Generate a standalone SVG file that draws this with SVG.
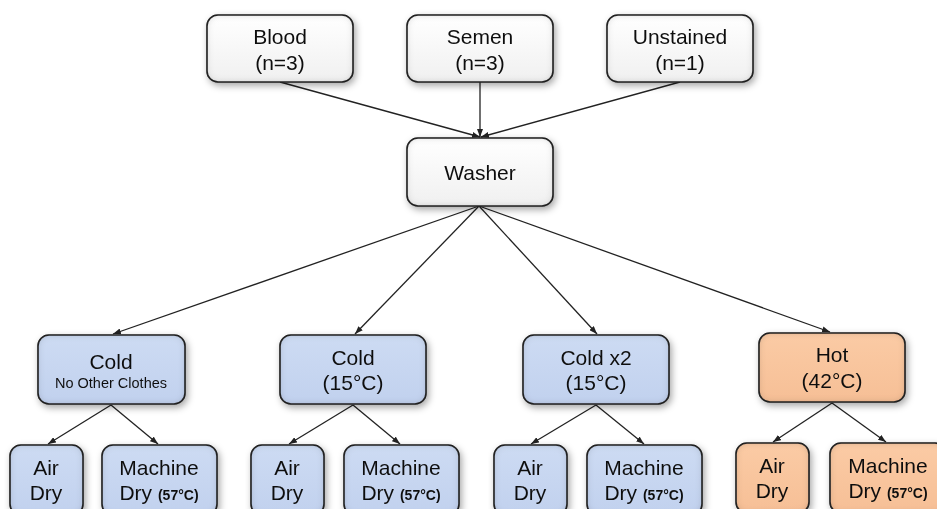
<svg xmlns="http://www.w3.org/2000/svg" width="937" height="509" viewBox="0 0 937 509">
  <style>
    .box { stroke: #262626; stroke-width: 1.6; }
    .plain { fill: url(#gPlain); }
    .cold { fill: url(#gCold); }
    .hot { fill: url(#gHot); }
    .lbl { font-family: "Liberation Sans", Arial, sans-serif; font-size: 21px; fill: #111; text-anchor: middle; }
    .small { font-size: 14.5px; }
    .deg { font-size: 14px; font-weight: bold; }
    .edge { stroke: #222; stroke-width: 1.3; fill: none; marker-end: url(#arr); }
  </style>
  <defs>
    <linearGradient id="gPlain" x1="0" y1="0" x2="0" y2="1">
      <stop offset="0" stop-color="#ffffff"/>
      <stop offset="1" stop-color="#f0f0f0"/>
    </linearGradient>
    <linearGradient id="gCold" x1="0" y1="0" x2="0" y2="1">
      <stop offset="0" stop-color="#cddbf3"/>
      <stop offset="1" stop-color="#c1d1ee"/>
    </linearGradient>
    <linearGradient id="gHot" x1="0" y1="0" x2="0" y2="1">
      <stop offset="0" stop-color="#fbcba5"/>
      <stop offset="1" stop-color="#f6bf96"/>
    </linearGradient>
    <!-- soft bevelled rim plus a drop shadow -->
    <filter id="bev" x="-10%" y="-15%" width="125%" height="135%">
      <feGaussianBlur in="SourceAlpha" stdDeviation="3.5" result="blur"/>
      <feComposite in="SourceAlpha" in2="blur" operator="out" result="rim"/>
      <feFlood flood-color="#000" flood-opacity="0.42"/>
      <feComposite in2="rim" operator="in" result="rimShade"/>
      <feOffset in="blur" dx="2" dy="3" result="sh"/>
      <feFlood flood-color="#000" flood-opacity="0.35"/>
      <feComposite in2="sh" operator="in" result="shadow"/>
      <feMerge>
        <feMergeNode in="shadow"/>
        <feMergeNode in="SourceGraphic"/>
        <feMergeNode in="rimShade"/>
      </feMerge>
    </filter>
    <marker id="arr" viewBox="0 0 8 6" refX="8" refY="3" markerWidth="8" markerHeight="6" markerUnits="userSpaceOnUse" orient="auto">
      <path d="M0,0 L8,3 L0,6 z" fill="#222"/>
    </marker>
  </defs>

  <g id="connectors">
    <line class="edge" x1="280" y1="82" x2="480" y2="137"/>
    <line class="edge" x1="480" y1="82" x2="480" y2="137"/>
    <line class="edge" x1="680" y1="82" x2="481" y2="137"/>
    <line class="edge" x1="479" y1="206" x2="113" y2="334"/>
    <line class="edge" x1="479" y1="206" x2="355" y2="334"/>
    <line class="edge" x1="479" y1="206" x2="597" y2="334"/>
    <line class="edge" x1="479" y1="206" x2="830" y2="332"/>
    <line class="edge" x1="111" y1="405" x2="48" y2="444"/>
    <line class="edge" x1="111" y1="405" x2="158" y2="444"/>
    <line class="edge" x1="353" y1="405" x2="289" y2="444"/>
    <line class="edge" x1="353" y1="405" x2="400" y2="444"/>
    <line class="edge" x1="596" y1="405" x2="531" y2="444"/>
    <line class="edge" x1="596" y1="405" x2="644" y2="444"/>
    <line class="edge" x1="832" y1="403" x2="773" y2="442"/>
    <line class="edge" x1="832" y1="403" x2="886" y2="442"/>
  </g>

  <g id="blood" filter="url(#bev)">
    <rect class="box plain" x="207" y="15" width="146" height="67" rx="11"/>
    <text class="lbl" x="280" y="44">Blood</text>
    <text class="lbl" x="280" y="70">(n=3)</text>
  </g>
  <g id="semen" filter="url(#bev)">
    <rect class="box plain" x="407" y="15" width="146" height="67" rx="11"/>
    <text class="lbl" x="480" y="44">Semen</text>
    <text class="lbl" x="480" y="70">(n=3)</text>
  </g>
  <g id="unstained" filter="url(#bev)">
    <rect class="box plain" x="607" y="15" width="146" height="67" rx="11"/>
    <text class="lbl" x="680" y="44">Unstained</text>
    <text class="lbl" x="680" y="70">(n=1)</text>
  </g>
  <g id="washer" filter="url(#bev)">
    <rect class="box plain" x="407" y="138" width="146" height="68" rx="11"/>
    <text class="lbl" x="480" y="180">Washer</text>
  </g>

  <g id="cold-alone" filter="url(#bev)">
    <rect class="box cold" x="38" y="335" width="147" height="69" rx="11"/>
    <text class="lbl" x="111" y="369">Cold</text>
    <text class="lbl small" x="111" y="388">No Other Clothes</text>
  </g>
  <g id="cold" filter="url(#bev)">
    <rect class="box cold" x="280" y="335" width="146" height="69" rx="11"/>
    <text class="lbl" x="353" y="365">Cold</text>
    <text class="lbl" x="353" y="390">(15°C)</text>
  </g>
  <g id="cold-x2" filter="url(#bev)">
    <rect class="box cold" x="523" y="335" width="146" height="69" rx="11"/>
    <text class="lbl" x="596" y="365">Cold x2</text>
    <text class="lbl" x="596" y="390">(15°C)</text>
  </g>
  <g id="hot" filter="url(#bev)">
    <rect class="box hot" x="759" y="333" width="146" height="69" rx="11"/>
    <text class="lbl" x="832" y="362">Hot</text>
    <text class="lbl" x="832" y="388">(42°C)</text>
  </g>

  <g id="cold-alone-air" filter="url(#bev)">
    <rect class="box cold" x="10" y="445" width="73" height="70" rx="11"/>
    <text class="lbl" x="46" y="475">Air</text>
    <text class="lbl" x="46" y="500">Dry</text>
  </g>
  <g id="cold-alone-machine" filter="url(#bev)">
    <rect class="box cold" x="102" y="445" width="115" height="70" rx="11"/>
    <text class="lbl" x="159" y="475">Machine</text>
    <text class="lbl" x="159" y="500">Dry <tspan class="deg">(57°C)</tspan></text>
  </g>
  <g id="cold-air" filter="url(#bev)">
    <rect class="box cold" x="251" y="445" width="73" height="70" rx="11"/>
    <text class="lbl" x="287" y="475">Air</text>
    <text class="lbl" x="287" y="500">Dry</text>
  </g>
  <g id="cold-machine" filter="url(#bev)">
    <rect class="box cold" x="344" y="445" width="115" height="70" rx="11"/>
    <text class="lbl" x="401" y="475">Machine</text>
    <text class="lbl" x="401" y="500">Dry <tspan class="deg">(57°C)</tspan></text>
  </g>
  <g id="cold-x2-air" filter="url(#bev)">
    <rect class="box cold" x="494" y="445" width="73" height="70" rx="11"/>
    <text class="lbl" x="530" y="475">Air</text>
    <text class="lbl" x="530" y="500">Dry</text>
  </g>
  <g id="cold-x2-machine" filter="url(#bev)">
    <rect class="box cold" x="587" y="445" width="115" height="70" rx="11"/>
    <text class="lbl" x="644" y="475">Machine</text>
    <text class="lbl" x="644" y="500">Dry <tspan class="deg">(57°C)</tspan></text>
  </g>
  <g id="hot-air" filter="url(#bev)">
    <rect class="box hot" x="736" y="443" width="73" height="70" rx="11"/>
    <text class="lbl" x="772" y="473">Air</text>
    <text class="lbl" x="772" y="498">Dry</text>
  </g>
  <g id="hot-machine" filter="url(#bev)">
    <rect class="box hot" x="830" y="443" width="116" height="70" rx="11"/>
    <text class="lbl" x="888" y="473">Machine</text>
    <text class="lbl" x="888" y="498">Dry <tspan class="deg">(57°C)</tspan></text>
  </g>
</svg>
